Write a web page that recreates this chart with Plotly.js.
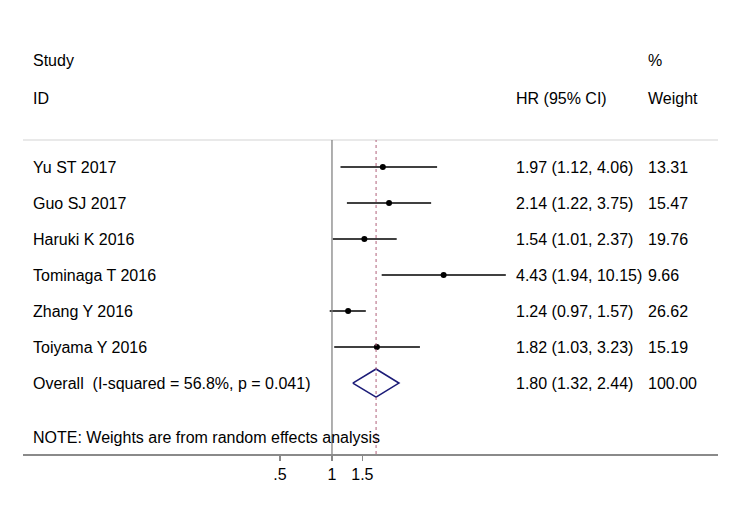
<!DOCTYPE html>
<html lang="en">
<head>
    <meta charset="UTF-8">
    <script src="https://cdn.plot.ly/plotly-3.0.1.min.js"></script>
    <style>
        html, body, #plot {
            height: 100%;
            width: 100%;
            margin: 0;
            padding: 0;
            overflow: hidden;
            background: #fff;
        }
    </style>
</head>
<body>
<div id="plot"></div>
<script>
    // Study data (HR with 95% CI and random-effects weight)
    const studies = ['Yu ST 2017', 'Guo SJ 2017', 'Haruki K 2016', 'Tominaga T 2016', 'Zhang Y 2016', 'Toiyama Y 2016'];
    const hr = [1.97, 2.14, 1.54, 4.43, 1.24, 1.82];
    const ciLow = [1.12, 1.22, 1.01, 1.94, 0.97, 1.03];
    const ciHigh = [4.06, 3.75, 2.37, 10.15, 1.57, 3.23];
    const weights = ['13.31', '15.47', '19.76', '9.66', '26.62', '15.19'];

    const overallLabel = 'Overall\u00a0 (I-squared = 56.8%, p = 0.041)';
    const overallHR = 1.80;
    const overallLow = 1.32;
    const overallHigh = 2.44;
    const overallWeight = '100.00';

    const tickVals = [0.5, 1, 1.5];
    const tickText = ['.5', '1', '1.5'];

    const font = {family: 'Arial, "Liberation Sans", sans-serif', size: 16, color: '#000000'};

    const fmt = v => v.toFixed(2);
    const rows = studies.map((s, i) => i);
    const overallRow = studies.length;

    // CI lines, one segment per study
    const ciX = [], ciY = [];
    rows.forEach(i => {
        ciX.push(ciLow[i], ciHigh[i], null);
        ciY.push(i, i, null);
    });
    const traceCI = {
        x: ciX,
        y: ciY,
        type: 'scatter',
        mode: 'lines',
        line: {color: '#000000', width: 1.6},
        hoverinfo: 'skip',
        showlegend: false
    };

    const tracePoints = {
        x: hr,
        y: rows,
        type: 'scatter',
        mode: 'markers',
        marker: {color: '#000000', size: 6},
        showlegend: false
    };

    const dh = 0.39; // diamond half height in row units
    const traceDiamond = {
        x: [overallLow, overallHR, overallHigh, overallHR, overallLow],
        y: [overallRow, overallRow - dh, overallRow, overallRow + dh, overallRow],
        type: 'scatter',
        mode: 'lines',
        line: {color: '#1c1c78', width: 1.6},
        showlegend: false
    };

    // text columns (paper coords)
    const colStudy = (31 - 23) / 695;
    const colHR = (514 - 23) / 695;
    const colW = (646 - 23) / 695;

    const annotations = [];
    function addText(text, x, y, yref) {
        annotations.push({
            text: text, x: x, y: y, xref: 'paper', yref: yref || 'y',
            xanchor: 'left', yanchor: 'middle', showarrow: false, font: font
        });
    }
    // header rows sit above the plot area
    const headTop = (454 - 61) / 314;
    const headBottom = (454 - 98) / 314;
    addText('Study', colStudy, headTop, 'paper');
    addText('ID', colStudy, headBottom, 'paper');
    addText('HR (95% CI)', colHR, headBottom, 'paper');
    addText('%', colW, headTop, 'paper');
    addText('Weight', colW, headBottom, 'paper');
    rows.forEach(i => {
        addText(studies[i], colStudy, i);
        addText(fmt(hr[i]) + ' (' + fmt(ciLow[i]) + ', ' + fmt(ciHigh[i]) + ')', colHR, i);
        addText(weights[i], colW, i);
    });
    addText(overallLabel, colStudy, overallRow);
    addText(fmt(overallHR) + ' (' + fmt(overallLow) + ', ' + fmt(overallHigh) + ')', colHR, overallRow);
    addText(overallWeight, colW, overallRow);
    addText('NOTE: Weights are from random effects analysis', colStudy, 7.5);

    const layout = {
        width: 736,
        height: 510,
        margin: {l: 23, r: 18, t: 140, b: 56, pad: 0},
        paper_bgcolor: '#ffffff',
        plot_bgcolor: '#ffffff',
        showlegend: false,
        font: font,
        xaxis: {
            type: 'log',
            range: [-1.789, 2.235],
            tickvals: tickVals,
            ticktext: tickText,
            ticks: 'outside',
            ticklen: 5,
            tickcolor: '#8a8a8a',
            tickwidth: 1.2,
            showline: true,
            linecolor: '#8a8a8a',
            linewidth: 1.5,
            showgrid: false,
            zeroline: false,
            tickfont: font
        },
        yaxis: {
            range: [7.97, -0.75],
            showgrid: false,
            zeroline: false,
            showline: false,
            showticklabels: false,
            ticks: ''
        },
        shapes: [
            // top separator
            {type: 'line', xref: 'paper', yref: 'paper', x0: 0, x1: 1, y0: 1, y1: 1,
             line: {color: '#d4d4d4', width: 1.2}},
            // line of no effect
            {type: 'line', xref: 'x', yref: 'paper', x0: 1, x1: 1, y0: 0, y1: 1,
             line: {color: '#7a7a7a', width: 1.2}},
            // overall estimate
            {type: 'line', xref: 'x', yref: 'paper', x0: overallHR, x1: overallHR, y0: 0, y1: 1,
             line: {color: '#b0607a', width: 1, dash: '3px,3px'}}
        ],
        annotations: annotations
    };

    Plotly.newPlot('plot', [traceCI, tracePoints, traceDiamond], layout, {displayModeBar: false, staticPlot: true});
</script>
</body>
</html>
